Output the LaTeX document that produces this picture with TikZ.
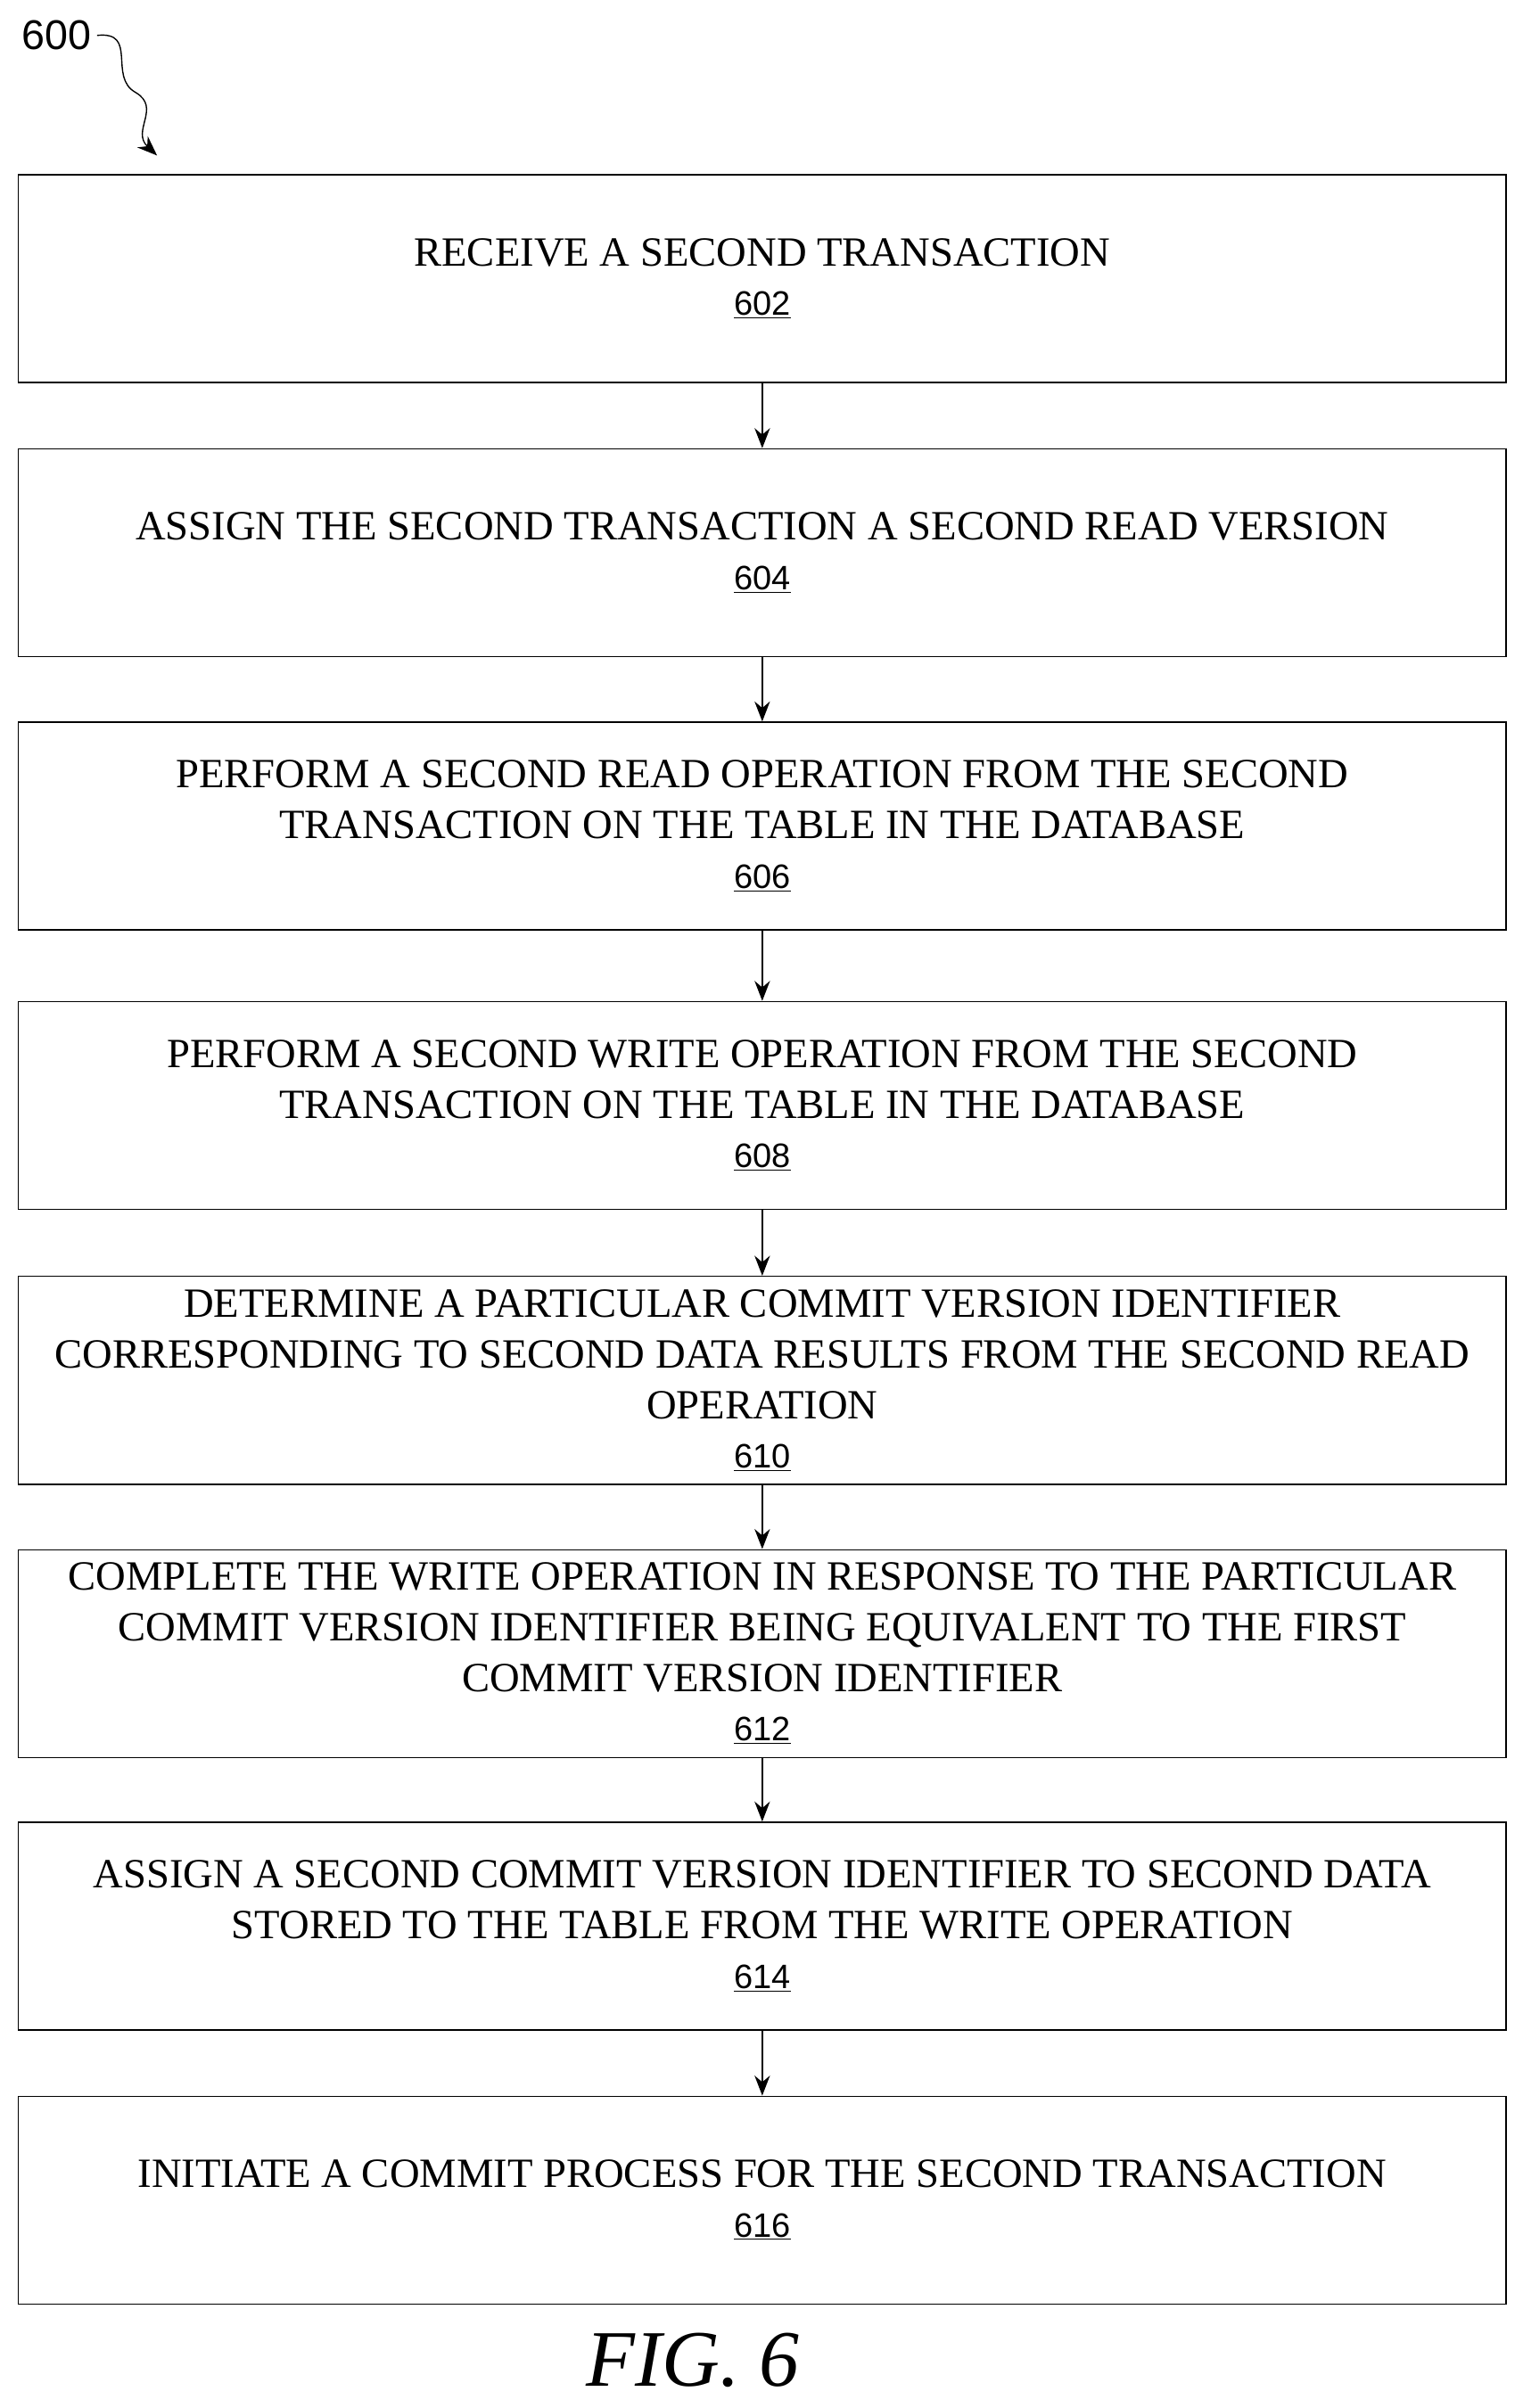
\documentclass[tikz,border=0pt]{standalone}
\usepackage{fontspec}
\setmainfont{Liberation Serif}
\newfontfamily\numfont{Liberation Sans}
\usetikzlibrary{arrows.meta}
\begin{document}
\begin{tikzpicture}[x=1pt,y=-1pt,
 box/.style={draw,line width=0.8pt,minimum width=966pt,minimum height=135pt,align=center,font=\fontsize{27}{33}\selectfont,inner sep=0pt},
 arr/.style={-{Stealth[length=13pt,width=10pt]},line width=0.8pt}]
\useasboundingbox (0,0) rectangle (989,1564);
\newcommand{\nm}[1]{\\[-1pt]{\numfont\fontsize{22}{30}\selectfont\underline{#1}}}
\node[box] (b1) at (495,181) {RECEIVE A SECOND TRANSACTION\nm{602}};
\node[box] (b2) at (495,359) {ASSIGN THE SECOND TRANSACTION A SECOND READ VERSION\nm{604}};
\node[box] (b3) at (495,536.5) {PERFORM A SECOND READ OPERATION FROM THE SECOND\\TRANSACTION ON THE TABLE IN THE DATABASE\nm{606}};
\node[box] (b4) at (495,718) {PERFORM A SECOND WRITE OPERATION FROM THE SECOND\\TRANSACTION ON THE TABLE IN THE DATABASE\nm{608}};
\node[box] (b5) at (495,896.5) {DETERMINE A PARTICULAR COMMIT VERSION IDENTIFIER\\CORRESPONDING TO SECOND DATA RESULTS FROM THE SECOND READ\\OPERATION\nm{610}};
\node[box] (b6) at (495,1074) {COMPLETE THE WRITE OPERATION IN RESPONSE TO THE PARTICULAR\\COMMIT VERSION IDENTIFIER BEING EQUIVALENT TO THE FIRST\\COMMIT VERSION IDENTIFIER\nm{612}};
\node[box] (b7) at (495,1251) {ASSIGN A SECOND COMMIT VERSION IDENTIFIER TO SECOND DATA\\STORED TO THE TABLE FROM THE WRITE OPERATION\nm{614}};
\node[box] (b8) at (495,1429) {INITIATE A COMMIT PROCESS FOR THE SECOND TRANSACTION\nm{616}};
\foreach \a/\b in {b1/b2,b2/b3,b3/b4,b4/b5,b5/b6,b6/b7,b7/b8} \draw[arr] (\a) -- (\b);
\node[font=\numfont\fontsize{27}{30}\selectfont] (l) at (37,23) {600};
\coordinate (t) at (102,101);
\draw[arr] (l.east) .. controls (90,20) and (70,50) .. (88,60) .. controls (105,70) and (85,85) .. (t);
\node[font=\itshape\fontsize{52}{56}\selectfont] (fig) at (450,1533) {FIG. 6};
\end{tikzpicture}
\end{document}
